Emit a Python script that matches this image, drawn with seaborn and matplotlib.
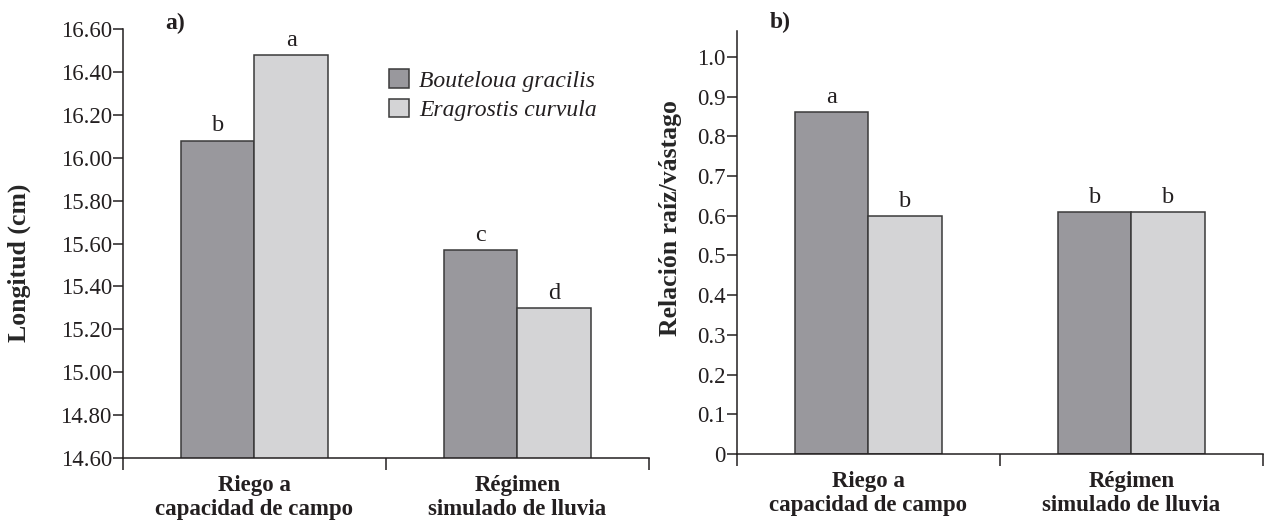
import pandas as pd
import matplotlib.pyplot as plt
import seaborn as sns
from matplotlib import font_manager
from matplotlib.ticker import FixedLocator, FuncFormatter

# Datos
tratamientos = ["Riego a\ncapacidad de campo", "Régimen\nsimulado de lluvia"]
especies = ["Bouteloua gracilis", "Eragrostis curvula"]
longitud_bg = [16.08, 15.57]
longitud_ec = [16.48, 15.30]
letras_long_bg = ["b", "c"]
letras_long_ec = ["a", "d"]
relacion_bg = [0.86, 0.61]
relacion_ec = [0.60, 0.61]
letras_rel_bg = ["a", "b"]
letras_rel_ec = ["b", "b"]

COLORES = ["#99989d", "#d4d4d6"]
BORDE = "#3a3a3a"
NEGRO = "#231f20"

sns.set_style("ticks")
plt.rcParams["font.family"] = ["Liberation Serif", "DejaVu Serif"]
plt.rcParams["axes.edgecolor"] = NEGRO
plt.rcParams["axes.linewidth"] = 1.1
plt.rcParams["xtick.color"] = NEGRO
plt.rcParams["ytick.color"] = NEGRO
plt.rcParams["text.color"] = NEGRO

# cursiva serif para la leyenda (si Liberation Serif no trae cursiva, DejaVu Serif)
hay_cursiva = any(f.name == "Liberation Serif" and f.style == "italic"
                  for f in font_manager.fontManager.ttflist)
if hay_cursiva:
    LEYENDA = {"family": "Liberation Serif", "style": "italic", "size": 17}
else:
    LEYENDA = {"family": "DejaVu Serif", "style": "italic", "size": 14.5}


def armar_tabla(valores_bg, valores_ec):
    filas = []
    for t, v in zip(tratamientos, valores_bg):
        filas.append({"tratamiento": t, "especie": especies[0], "valor": v})
    for t, v in zip(tratamientos, valores_ec):
        filas.append({"tratamiento": t, "especie": especies[1], "valor": v})
    return pd.DataFrame(filas)


def dibujar(ax, df, letras, ylim, fmt, ylabel, label_xy, panel, panel_xy):
    sns.barplot(data=df, x="tratamiento", y="valor", hue="especie",
                order=tratamientos, hue_order=especies, palette=COLORES,
                width=0.56, errorbar=None, edgecolor=BORDE, linewidth=1.1,
                saturation=1, ax=ax)
    for cont, labs in zip(ax.containers, letras):
        ax.bar_label(cont, labels=labs, padding=3, fontsize=17.5)
    ax.set_xlim(-0.5, 1.5)
    ax.set_ylim(*ylim)
    ax.yaxis.set_major_formatter(FuncFormatter(fmt))
    ax.tick_params(axis="y", length=7, width=1.1, pad=1, labelsize=16.5)
    ax.tick_params(axis="x", which="major", length=0, pad=12, labelsize=16.5)
    ax.xaxis.set_minor_locator(FixedLocator([-0.5, 0.5, 1.5]))
    ax.tick_params(axis="x", which="minor", length=8.5, width=1.1)
    for lab in ax.get_xticklabels():
        lab.set_fontweight("bold")
    ax.set_xlabel("")
    ax.set_ylabel(ylabel, fontsize=18.5, fontweight="bold")
    ax.yaxis.set_label_coords(*label_xy)
    ax.yaxis.label.set_va("center")
    sns.despine(ax=ax)
    ax.text(panel_xy[0], panel_xy[1], panel, transform=ax.transAxes,
            fontsize=17, fontweight="bold", ha="center", va="center")


fig = plt.figure(figsize=(12.65, 5.25), dpi=100)
ax_a = fig.add_axes([0.0972, 0.1276, 0.4158, 0.8171])
ax_b = fig.add_axes([0.5826, 0.1352, 0.4158, 0.8057])

df_a = armar_tabla(longitud_bg, longitud_ec)
dibujar(ax_a, df_a, [letras_long_bg, letras_long_ec], (14.6, 16.6),
        lambda v, p: f"{v:.2f}", "Longitud (cm)", (-0.198, 0.455),
        "a)", (0.099, 1.012))
ax_a.set_yticks([14.6 + 0.2 * i for i in range(11)])
handles, labels = ax_a.get_legend_handles_labels()
ax_a.legend(handles, labels, loc="upper left", bbox_to_anchor=(0.505, 0.907),
            frameon=False, prop=LEYENDA,
            handlelength=0.85, handleheight=0.85, handletextpad=0.45,
            labelspacing=0.3, borderpad=0, borderaxespad=0)

df_b = armar_tabla(relacion_bg, relacion_ec)
dibujar(ax_b, df_b, [letras_rel_bg, letras_rel_ec], (0, 1.065),
        lambda v, p: "0" if abs(v) < 1e-9 else f"{v:.1f}", "Relación raíz/vástago",
        (-0.127, 0.558), "b)", (0.082, 1.02))
ax_b.set_yticks([0.1 * i for i in range(11)])
if ax_b.get_legend() is not None:
    ax_b.get_legend().remove()

fig.savefig("out.png", dpi=100)
